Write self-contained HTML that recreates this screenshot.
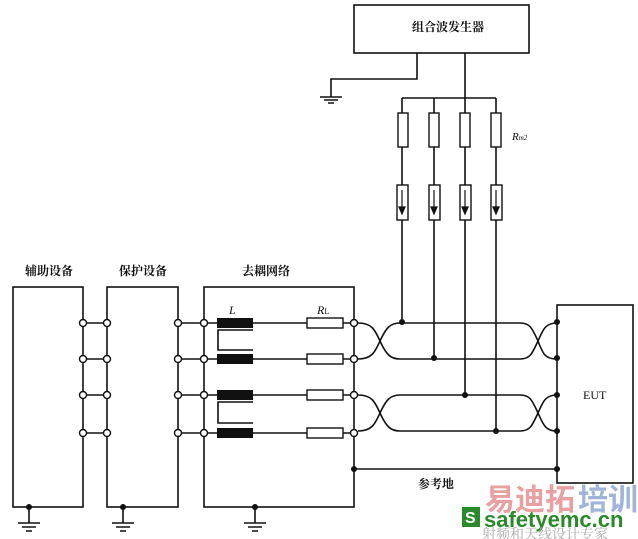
<!DOCTYPE html><html><head><meta charset="utf-8"><style>
body{margin:0;background:#fff}
svg{display:block}
text{font-family:"Liberation Serif","Noto Serif CJK SC",serif;fill:#111}
.b{font-weight:bold;font-size:12px}
</style></head><body>
<svg width="638" height="539" viewBox="0 0 638 539" xmlns="http://www.w3.org/2000/svg">
<g stroke="#111" stroke-width="1.6" fill="none">
<!-- boxes -->
<rect x="13" y="287" width="70" height="220"/>
<rect x="107" y="287" width="71" height="220"/>
<rect x="204" y="287" width="150" height="220"/>
<rect x="557" y="305" width="76" height="178"/>
<rect x="354" y="5" width="175" height="48"/>
<!-- generator ground -->
<path d="M417 53V79H331V97"/>
<path d="M320 97H342M324 100H338M328 103H334"/>
<!-- generator line -->
<path d="M465 53V98M402 98H496"/>
<!-- rows -->
<path d="M83 323H107M178 323H217M253 323H307M343 323H354"/>
<path d="M83 359H107M178 359H217M253 359H307M343 359H354"/>
<path d="M83 395H107M178 395H217M253 395H307M343 395H354"/>
<path d="M83 433H107M178 433H217M253 433H307M343 433H354"/>
<!-- brackets -->
<path d="M253 330H218V350H253M253 402H218V423H253"/>
<!-- twisted pairs -->
<path d="M358 323C372 323 375 330 380 341C386 354 390 359 400 359H520C530 359 532 354 538 341C543 330 545 323 557 323"/>
<path d="M358 359C372 359 375 352 380 341C386 328 390 323 400 323H520C530 323 532 328 538 341C543 354 545 359 557 359"/>
<path d="M358 395C372 395 375 402 380 413C386 426 390 431 400 431H520C530 431 532 426 538 413C543 402 545 395 557 395"/>
<path d="M358 431C372 431 375 424 380 413C386 400 390 395 400 395H520C530 395 532 400 538 413C543 424 545 431 557 431"/>
<!-- ref ground -->
<path d="M354 469H557"/>
<!-- verticals -->
<path d="M402 98V322M434 98V358M465 98V395M496 98V431"/>
<!-- grounds -->
<path d="M29 507V523M18 523H40M22 527H36M26 531H32"/>
<path d="M123 507V523M112 523H134M116 527H130M120 531H126"/>
<path d="M255 507V523M244 523H266M248 527H262M252 531H258"/>
</g>
<g fill="#111">
<rect x="217" y="318" width="36" height="10"/><rect x="217" y="354" width="36" height="10"/>
<rect x="217" y="390" width="36" height="10"/><rect x="217" y="428" width="36" height="10"/>
<circle cx="29" cy="507" r="3"/><circle cx="123" cy="507" r="3"/><circle cx="255" cy="507" r="3"/>
<circle cx="354" cy="469" r="3"/><circle cx="557" cy="469" r="3"/>
<circle cx="557" cy="322" r="3"/><circle cx="557" cy="358" r="3"/><circle cx="557" cy="395" r="3"/><circle cx="557" cy="431" r="3"/>
<circle cx="402" cy="322" r="3"/><circle cx="434" cy="358" r="3"/><circle cx="465" cy="395" r="3"/><circle cx="496" cy="431" r="3"/>
</g>
<g stroke="#111" stroke-width="1.4" fill="#fff">
<rect x="307" y="318" width="36" height="10"/><rect x="307" y="354" width="36" height="10"/>
<rect x="307" y="390" width="36" height="10"/><rect x="307" y="428" width="36" height="10"/>
<rect x="398" y="113" width="10" height="34"/><rect x="429" y="113" width="10" height="34"/>
<rect x="460" y="113" width="10" height="34"/><rect x="491" y="113" width="10" height="34"/>
<rect x="397" y="185" width="11" height="35"/><rect x="429" y="185" width="11" height="35"/>
<rect x="460" y="185" width="11" height="35"/><rect x="491" y="185" width="11" height="35"/>
<g id="c">
<circle cx="83" cy="323" r="3.5"/><circle cx="107" cy="323" r="3.5"/><circle cx="178" cy="323" r="3.5"/><circle cx="204" cy="323" r="3.5"/><circle cx="354" cy="323" r="3.5"/>
</g>
<use href="#c" y="36"/><use href="#c" y="72"/><use href="#c" y="110"/>
</g>
<g stroke="#111" stroke-width="1.2" fill="#111">
<path d="M402 190V212M434 190V212M465 190V212M496 190V212" fill="none"/>
<path d="M399 207L402 214L405 207Z M431 207L434 214L437 207Z M462 207L465 214L468 207Z M493 207L496 214L499 207Z"/>
</g>
<text class="b" x="25" y="275">辅助设备</text>
<text class="b" x="119" y="275">保护设备</text>
<text class="b" x="242" y="275">去耦网络</text>
<text class="b" x="412" y="31">组合波发生器</text>
<text class="b" x="418" y="488">参考地</text>
<text x="583" y="399" font-size="12">EUT</text>
<text x="229" y="314" font-size="12" font-style="italic">L</text>
<text x="317" y="314" font-size="12" font-style="italic">R<tspan font-size="8" font-style="normal">L</tspan></text>
<text x="512" y="140" font-size="11" font-style="italic">R<tspan font-size="7">m2</tspan></text>
<!-- watermark -->
<text x="485" y="510" font-size="30" font-weight="bold" style="fill:#e8a0a0;font-family:'Noto Sans CJK SC',sans-serif">易迪拓</text>
<text x="578" y="510" font-size="30" font-weight="bold" style="fill:#9fb4d8;font-family:'Noto Sans CJK SC',sans-serif">培训</text>
<rect x="462" y="507" width="18" height="20" fill="#2a8a2a"/>
<text x="465" y="523" font-size="16" font-weight="bold" style="fill:#fff;font-family:'Liberation Sans',sans-serif">S</text>
<text x="484" y="527" font-size="22" font-weight="bold" style="fill:#2a8a2a;font-family:'Liberation Sans',sans-serif">safetyemc.cn</text>
<text x="482" y="539" font-size="14" style="fill:#aaa;font-family:'Noto Serif CJK SC',serif">射频和天线设计专家</text>
</svg>
</body></html>
